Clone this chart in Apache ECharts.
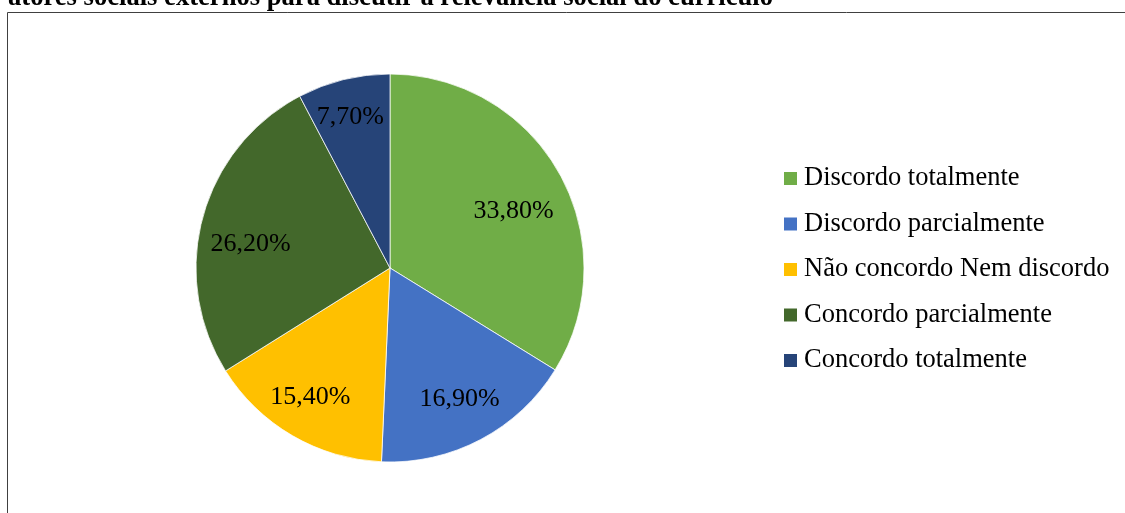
<!DOCTYPE html>
<html>
<head>
<meta charset="utf-8">
<script src="https://cdn.jsdelivr.net/npm/echarts@6/dist/echarts.min.js"></script>
<style>
  html, body { margin: 0; padding: 0; background: #fff; }
  #chart { width: 1125px; height: 513px; }
</style>
</head>
<body>
<div id="chart"></div>
<script>
// Respostas: atores sociais externos para discutir a relevância social do currículo
const titleText = 'atores sociais externos para discutir a relevância social do currículo';
const categories = [
  'Discordo totalmente',
  'Discordo parcialmente',
  'Não concordo Nem discordo',
  'Concordo parcialmente',
  'Concordo totalmente'
];
const values = [33.8, 16.9, 15.4, 26.2, 7.7];
const colors = ['#70AD47', '#4472C4', '#FFC000', '#43682B', '#264478'];

// small nudges of the percentage labels away from the ring midpoint
const labelNudge = [[-6, 16], [0, 0], [-5, 1], [4, 15], [-4, -7]];

const FONT = '"Liberation Serif", "Times New Roman", serif';
const R = 194;
const CX = 390, CY = 268;

const pieData = categories.map((name, i) => ({
  name: name,
  value: values[i],
  itemStyle: { color: colors[i] }
}));

function pct(v) {
  return v.toFixed(2).replace('.', ',') + '%';
}

const chart = echarts.init(document.getElementById('chart'), null, { renderer: 'canvas' });

chart.setOption({
  animation: false,
  backgroundColor: '#fff',
  color: colors,
  legend: {
    orient: 'vertical',
    left: 784,
    top: 165,
    padding: 0,
    icon: 'rect',
    itemWidth: 13,
    itemHeight: 13,
    itemGap: 18.5,
    selectedMode: false,
    itemStyle: { borderWidth: 0 },
    data: categories,
    textStyle: {
      fontFamily: FONT,
      fontSize: 26.5,
      color: '#000',
      lineHeight: 27,
      padding: [0, 0, 0, 2]
    }
  },
  graphic: [
    {
      type: 'rect',
      shape: { x: 7.5, y: 12.5, width: 1200, height: 600 },
      style: { fill: 'none', stroke: '#404040', lineWidth: 1 },
      silent: true,
      z: 0
    },
    {
      type: 'text',
      x: 8,
      y: -1.5,
      style: {
        text: titleText,
        font: 'bold 26.6px ' + FONT,
        fill: '#000',
        verticalAlign: 'middle',
        align: 'left'
      },
      silent: true
    }
  ],
  series: [
    {
      type: 'pie',
      center: [CX, CY],
      radius: [0, R],
      startAngle: 90,
      clockwise: true,
      silent: true,
      label: { show: false },
      labelLine: { show: false },
      itemStyle: { borderColor: '#fff', borderWidth: 0.75 },
      data: pieData
    },
    {
      // transparent ring used only to place the percentage labels
      type: 'pie',
      center: [CX, CY],
      radius: [R * 0.5, R],
      startAngle: 90,
      clockwise: true,
      silent: true,
      legendHoverLink: false,
      itemStyle: { color: 'rgba(0,0,0,0)', borderWidth: 0 },
      label: {
        show: true,
        position: 'inside',
        formatter: p => pct(p.value),
        fontFamily: FONT,
        fontSize: 26,
        color: '#000'
      },
      labelLine: { show: false },
      labelLayout: p => ({ dx: labelNudge[p.dataIndex][0], dy: labelNudge[p.dataIndex][1] }),
      data: categories.map((name, i) => ({ name: name, value: values[i] }))
    }
  ]
});
</script>
</body>
</html>
